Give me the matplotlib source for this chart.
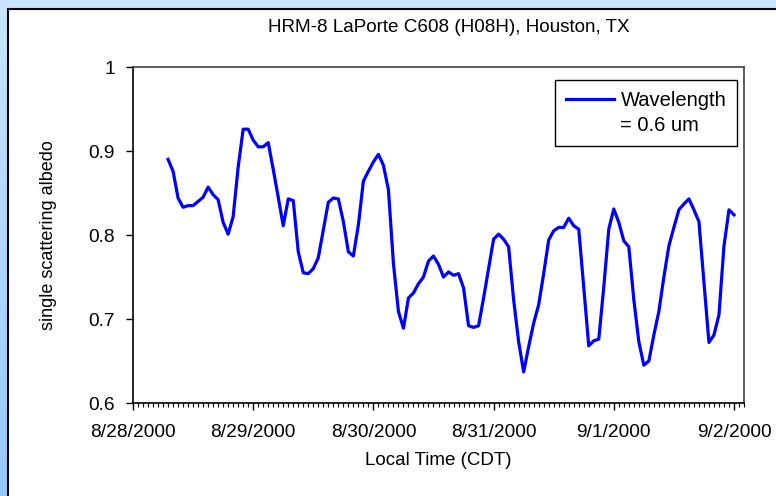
import numpy as np
import pandas as pd
import matplotlib
matplotlib.use('Agg')
import matplotlib.pyplot as plt
import matplotlib.dates as mdates
from matplotlib.patches import Rectangle
from matplotlib.lines import Line2D
from matplotlib.colors import LinearSegmentedColormap
from matplotlib.ticker import FuncFormatter

plt.rcParams['font.family'] = ['Liberation Sans', 'DejaVu Sans']

# hourly values, one list per day (CDT)
start_time = '2000-08-28 07:00'
day_0828 = [0.890, 0.876, 0.844, 0.833, 0.835, 0.835, 0.840, 0.845, 0.857,
            0.848, 0.842, 0.815, 0.801, 0.822, 0.881, 0.926, 0.926]
day_0829 = [0.913, 0.905, 0.905, 0.910, 0.878, 0.845, 0.811, 0.843, 0.841,
            0.780, 0.755, 0.754, 0.760, 0.773, 0.806, 0.839, 0.844, 0.843,
            0.816, 0.780, 0.775, 0.812, 0.864, 0.876]
day_0830 = [0.887, 0.896, 0.883, 0.854, 0.766, 0.709, 0.689, 0.725, 0.731,
            0.742, 0.750, 0.769, 0.775, 0.765, 0.750, 0.756, 0.752, 0.754,
            0.737, 0.692, 0.690, 0.692, 0.725, 0.760]
day_0831 = [0.795, 0.801, 0.795, 0.786, 0.723, 0.673, 0.637, 0.667, 0.695,
            0.717, 0.754, 0.794, 0.805, 0.809, 0.809, 0.820, 0.811, 0.807,
            0.738, 0.668, 0.674, 0.676, 0.738, 0.807]
day_0901 = [0.831, 0.815, 0.793, 0.786, 0.723, 0.673, 0.645, 0.650, 0.681,
            0.709, 0.750, 0.787, 0.809, 0.830, 0.837, 0.843, 0.830, 0.816,
            0.744, 0.672, 0.681, 0.705, 0.787, 0.830]
day_0902 = [0.824]

albedo = day_0828 + day_0829 + day_0830 + day_0831 + day_0901 + day_0902
times = pd.date_range(start_time, periods=len(albedo), freq='h')

y_ticks = [0.6, 0.7, 0.8, 0.9, 1.0]

W, H = 776, 496
fig = plt.figure(figsize=(W / 100, H / 100), dpi=100)

# light blue gradient behind a white chart panel
bg = fig.add_axes([0, 0, 1, 1], zorder=-10)
grad = np.linspace(0, 1, 256).reshape(-1, 1)
cm = LinearSegmentedColormap.from_list('bg', ['#c8e6ff', '#96c8fb'])
bg.imshow(grad, aspect='auto', cmap=cm, extent=[0, 1, 0, 1])
bg.set_axis_off()
fig.add_artist(Rectangle((8 / W, -0.02), 1.0, (H - 9) / H + 0.02,
                         transform=fig.transFigure, facecolor='white',
                         edgecolor='black', lw=1.5, zorder=-5))

ax = fig.add_axes([133 / W, 1 - 403 / H, (744 - 133) / W, (403 - 67) / H])
ax.set_facecolor('white')
line, = ax.plot(times, albedo, color='#0000ff', lw=2.3)

ax.set_ylim(0.6, 1.0)
ax.set_yticks(y_ticks)
ax.yaxis.set_major_formatter(FuncFormatter(lambda v, p: '%g' % round(v, 2)))
ax.set_xlim(pd.Timestamp('2000-08-28 00:00'), pd.Timestamp('2000-09-02 02:00'))
ax.xaxis.set_major_locator(mdates.DayLocator())
ax.xaxis.set_minor_locator(mdates.HourLocator(interval=1))


def day_label(v, p):
    d = mdates.num2date(v)
    return '%d/%d/%d' % (d.month, d.day, d.year)


ax.xaxis.set_major_formatter(FuncFormatter(day_label))

ax.tick_params(axis='both', which='major', direction='out', length=5,
               width=1, labelsize=13.8, colors='black')
ax.tick_params(axis='x', which='major', pad=10)
ax.tick_params(axis='y', which='major', pad=8)
ax.tick_params(axis='x', which='minor', direction='out', length=3, width=0.8)

for s in ['left', 'bottom']:
    ax.spines[s].set_color('black')
    ax.spines[s].set_linewidth(1.2)
for s in ['top', 'right']:
    ax.spines[s].set_color('#404040')
    ax.spines[s].set_linewidth(1.2)

ax.set_ylabel('single scattering albedo', fontsize=13)
ax.yaxis.set_label_coords(-0.125, 0.5)
ax.set_xlabel('Local Time (CDT)', fontsize=13.5)
ax.xaxis.set_label_coords(0.5, -0.145)
ax.xaxis.label.set_va('top')

fig.text(449 / W, 1 - 27 / H, 'HRM-8 LaPorte C608 (H08H), Houston, TX',
         ha='center', va='center', fontsize=13.6)

blank = Line2D([], [], color='none')
leg = ax.legend([line, blank], ['Wavelength', '= 0.6 um'], loc='upper right',
                bbox_to_anchor=(0.989, 0.961), borderaxespad=0, fancybox=False,
                framealpha=1, edgecolor='black', fontsize=14.5,
                handlelength=2.4, handletextpad=0.3, labelspacing=0.3,
                borderpad=0.55)
leg.get_frame().set_linewidth(1.0)

fig.savefig('out.png', dpi=100)
